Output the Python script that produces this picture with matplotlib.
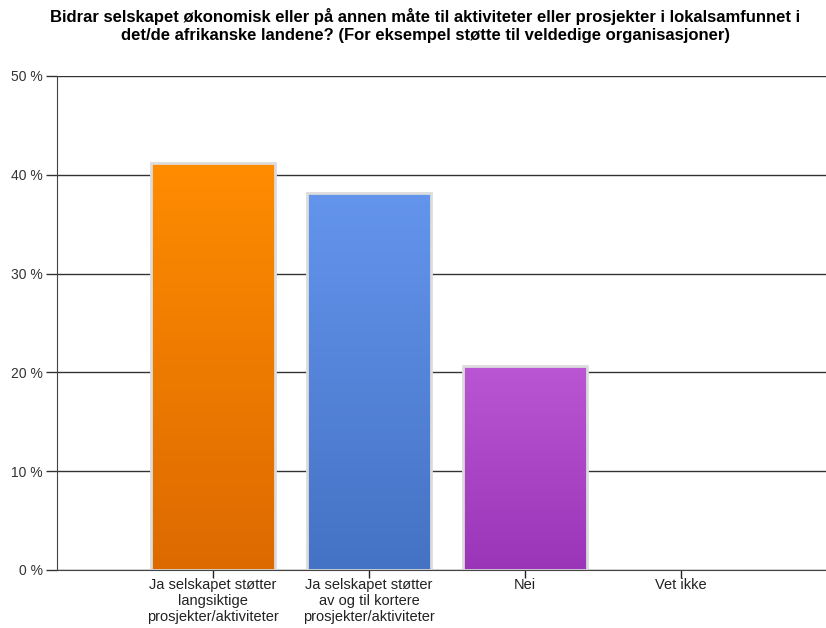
import matplotlib

matplotlib.use("Agg")
import matplotlib.pyplot as plt
import numpy as np
from matplotlib.colors import LinearSegmentedColormap

categories = [
    "Ja selskapet støtter\nlangsiktige\nprosjekter/aktiviteter",
    "Ja selskapet støtter\nav og til kortere\nprosjekter/aktiviteter",
    "Nei",
    "Vet ikke",
]
values = [41.2, 38.2, 20.6, 0.0]
top_colors = ["#ff8c00", "#6495ed", "#ba55d3", "#cccccc"]
bottom_colors = ["#dd6a00", "#4472c4", "#9a35b8", "#aaaaaa"]
y_ticks = [0, 10, 20, 30, 40, 50]
y_tick_labels = [f"{v} %" for v in y_ticks]
title = ("Bidrar selskapet økonomisk eller på annen måte til aktiviteter eller prosjekter i lokalsamfunnet i\n"
         "det/de afrikanske landene? (For eksempel støtte til veldedige organisasjoner)")

plt.rcParams["font.family"] = ["Liberation Sans", "DejaVu Sans"]

fig = plt.figure(figsize=(8.26, 6.28), dpi=100)
ax = fig.add_axes([0.069, 0.0924, 0.931, 0.7866])

x = np.arange(len(categories))
bars = ax.bar(x, values, width=0.79, color="none", edgecolor="#dcdcdc", linewidth=2, zorder=3)

# vertical gradient fill clipped to each bar
grad = np.linspace(0, 1, 256).reshape(-1, 1)
for rect, top, bottom in zip(bars, top_colors, bottom_colors):
    h = rect.get_height()
    if h <= 0:
        continue
    cmap = LinearSegmentedColormap.from_list("g", [bottom, top])
    x0 = rect.get_x()
    im = ax.imshow(grad, cmap=cmap, aspect="auto", origin="lower",
                   extent=(x0, x0 + rect.get_width(), 0, h), zorder=2.5)
    im.set_clip_path(rect)

ax.set_xlim(-1.0, 3.93)
ax.set_ylim(0, 50)
ax.set_yticks(y_ticks)
ax.set_yticklabels(y_tick_labels, fontsize=10, color="#333333")
ax.set_xticks(x)
ax.set_xticklabels(categories, fontsize=10.5, color="#222222", linespacing=1.15)
ax.tick_params(axis="y", length=8, width=1, color="#333333", pad=2)
ax.tick_params(axis="x", length=6, width=1, color="#222222", pad=0)

ax.yaxis.grid(True, color="#333333", linewidth=1)
ax.set_axisbelow(True)
for side in ("top", "right"):
    ax.spines[side].set_visible(False)
ax.spines["left"].set_color("#444444")
ax.spines["bottom"].set_color("#444444")
ax.spines["bottom"].set_zorder(4)

fig.text(0.515, 0.988, title, ha="center", va="top", fontsize=12,
         fontweight="bold", linespacing=1.3)

fig.savefig("out.png", dpi=100)
